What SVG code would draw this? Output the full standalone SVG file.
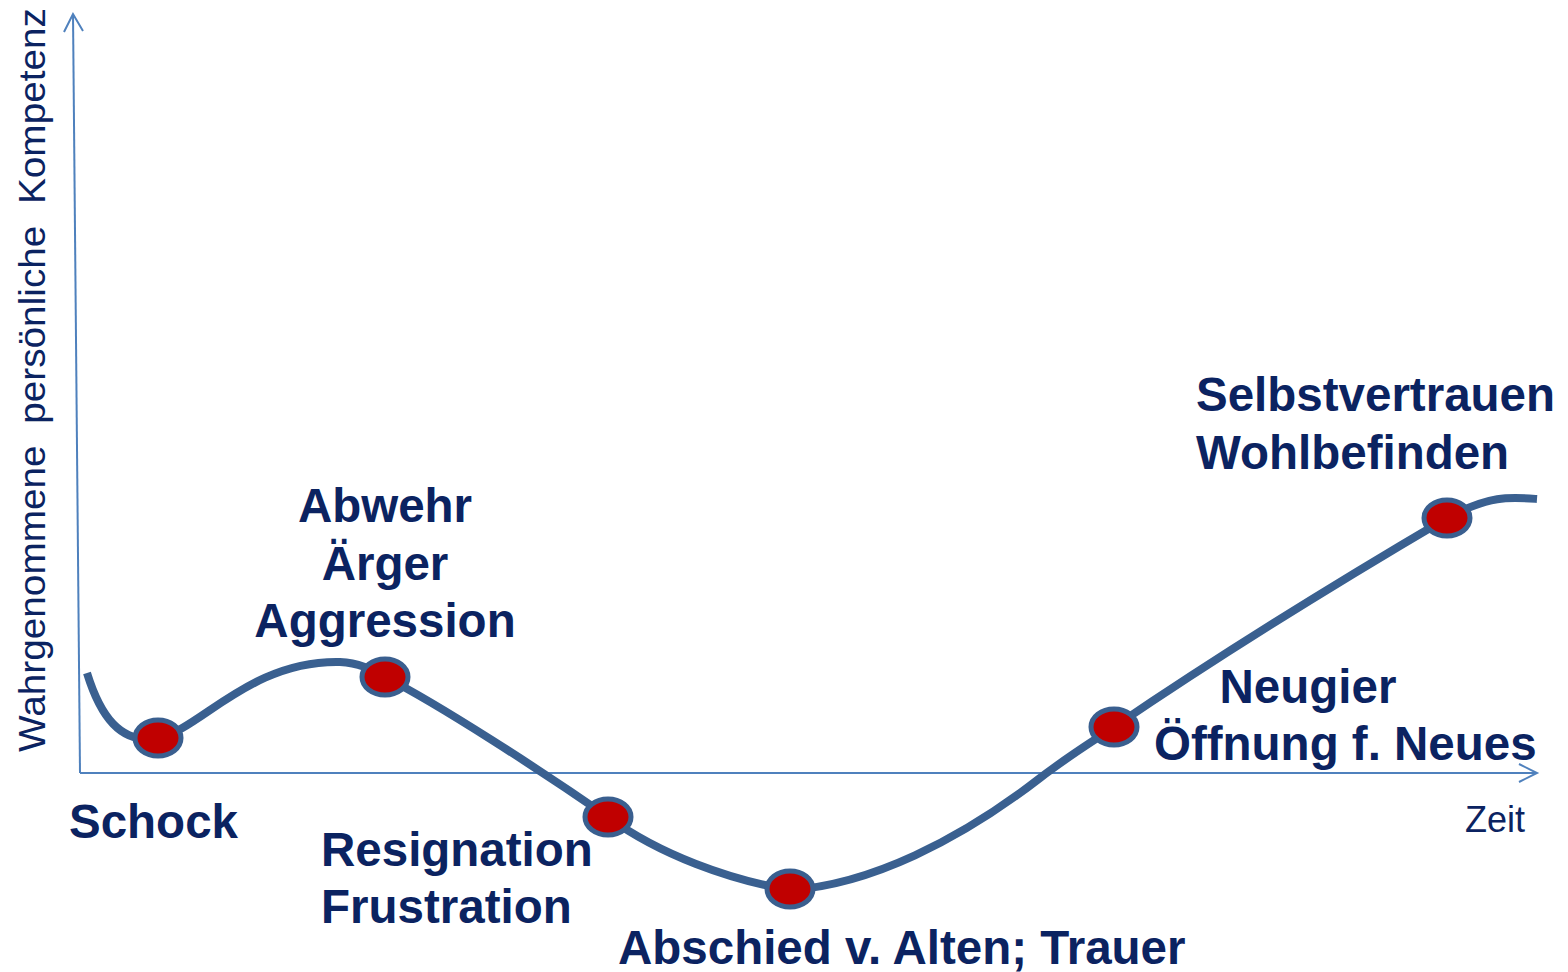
<svg xmlns="http://www.w3.org/2000/svg" width="1568" height="972" viewBox="0 0 1568 972">
<style>
.lbl{font-family:"Liberation Sans",Arial,sans-serif;font-weight:bold;font-size:47.5px;fill:#0B2361}
.ax{font-family:"Liberation Sans",Arial,sans-serif;font-size:36px;fill:#0B2361}
.axis{stroke:#4F81BD;stroke-width:2;fill:none}
.dot{fill:#C00000;stroke:#3A5F8F;stroke-width:5}
</style>
<rect width="1568" height="972" fill="#fff"/>
<g id="axes">
<path class="axis" d="M80,773 L73,14"/>
<path class="axis" d="M64,32 L73,14 L83,31"/>
<path class="axis" d="M80,773 L1537,773"/>
<path class="axis" d="M1519,764 L1537,773 L1519,782"/>
<text class="ax" transform="translate(45,752) rotate(-90)" textLength="744" lengthAdjust="spacingAndGlyphs" xml:space="preserve">Wahrgenommene  persönliche  Kompetenz</text>
<text class="ax" x="1465" y="832">Zeit</text>
</g>
<g id="connectors">
<path d="M87,673 C100,715 120,745 158,738 C200,730 250,660 340,662 C360,663 372,670 385,677 C440,705 540,770 608,817 C660,855 730,880 790,890 C870,885 960,840 1040,778 C1070,755 1095,740 1114,727 C1220,655 1350,575 1447,518 C1490,495 1510,497 1537,499" fill="none" stroke="#3A6090" stroke-width="8"/>
</g>
<g id="schock"><ellipse class="dot" cx="158" cy="738" rx="23" ry="18"/><text class="lbl" x="69" y="838">Schock</text></g>
<g id="abwehr"><ellipse class="dot" cx="385" cy="677" rx="23" ry="18"/>
<text class="lbl" x="385" y="522" text-anchor="middle">Abwehr</text>
<text class="lbl" x="385" y="580" text-anchor="middle">Ärger</text>
<text class="lbl" x="385" y="637" text-anchor="middle">Aggression</text></g>
<g id="resignation"><ellipse class="dot" cx="608" cy="817" rx="23" ry="18"/>
<text class="lbl" x="321" y="866">Resignation</text>
<text class="lbl" x="321" y="923">Frustration</text></g>
<g id="abschied"><ellipse class="dot" cx="790" cy="889" rx="23" ry="18"/>
<text class="lbl" x="618" y="964">Abschied v. Alten; Trauer</text></g>
<g id="neugier"><ellipse class="dot" cx="1114" cy="727" rx="23" ry="18"/>
<text class="lbl" x="1308" y="703" text-anchor="middle">Neugier</text>
<text class="lbl" x="1154" y="760">Öffnung f. Neues</text></g>
<g id="selbstvertrauen"><ellipse class="dot" cx="1447" cy="518" rx="23" ry="18"/>
<text class="lbl" x="1196" y="411">Selbstvertrauen</text>
<text class="lbl" x="1196" y="469">Wohlbefinden</text></g>
</svg>
